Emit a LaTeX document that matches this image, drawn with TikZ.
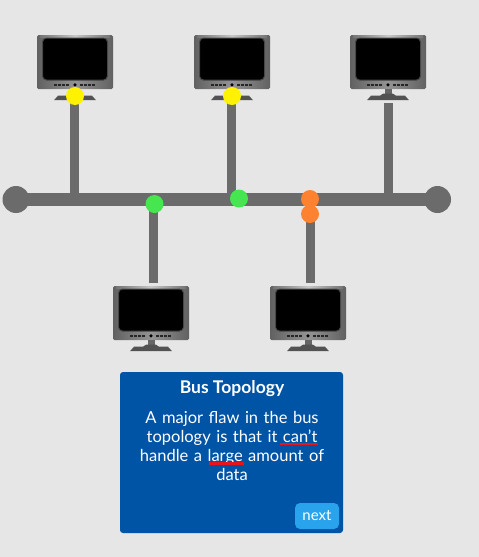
\documentclass[tikz,border=0pt]{standalone}
\usepackage{fontspec}
\setmainfont[Ligatures=ResetAll]{Lato}
\usetikzlibrary{positioning,calc}
\definecolor{pagegrey}{HTML}{E6E6E6}
\definecolor{busgrey}{HTML}{6B6B6B}
\definecolor{cardblue}{HTML}{0054A6}
\definecolor{nextblue}{HTML}{29A3EC}
\definecolor{dotgreen}{HTML}{46E650}
\definecolor{dotorange}{HTML}{FF8230}
\definecolor{flawred}{HTML}{E8141C}

\tikzset{
    wire/.style={draw=busgrey,line width=9pt},
    busend/.style={circle,fill=busgrey,minimum size=27pt,inner sep=0pt},
    signal/.style={circle,fill=#1,minimum size=18pt,inner sep=0pt},
    flawline/.style={draw=flawred,line width=2.2pt},
    monitor/.style={
        rectangle,
        rounded corners=1.5pt,
        minimum width=76pt,
        minimum height=54pt,
        inner sep=0pt,
        left color=black!62,
        right color=black!62,
        middle color=black!42
    },
    screen/.style={
        rectangle,
        rounded corners=4pt,
        fill=black,
        draw=black!72,
        line width=1pt,
        minimum width=65pt,
        minimum height=42pt,
        inner sep=0pt
    },
    stand/.pic={
        \fill[black!60] (-3.5,0) rectangle (3.5,6);
        \fill[black!68] (-5,4.5) -- (5,4.5) -- (8,6.5) -- (17,6.5) -- (21,11) -- (-21,11) -- (-17,6.5) -- (-8,6.5) -- cycle;
    }
}

\newcommand{\pcmonitor}[3]{
    \node[monitor] (#1) at (#2,#3) {};
    \fill[left color=black!55,right color=black!55,middle color=black!22] ($(#1.north west)+(3,1)$) rectangle ($(#1.north east)+(-3,3)$);
    \node[screen,yshift=3pt] (#1 screen) at (#1) {};
    \foreach \dx in {-21,-17,-13,-9,5,9,13,17}
        \fill[black!85] ($(#1.south)+(\dx,-5)$) rectangle +(3.2,1.5);
    \fill[black] ($(#1.south)+(0,-4.3)$) circle (1.8);
    \path (#1.south) pic {stand};
}

\begin{document}
\begin{tikzpicture}[x=1pt,y=-1pt]

\useasboundingbox[fill=pagegrey] (0,0) rectangle (479,557);

% monitors
\pcmonitor{pcA}{75}{62}
\pcmonitor{pcB}{232}{62}
\pcmonitor{pcC}{388}{62}
\pcmonitor{pcD}{151}{313}
\pcmonitor{pcE}{308}{313}

% bus
\node[busend] (endL) at (16,199.5) {};
\node[busend] (endR) at (437.5,199.5) {};
\draw[wire,line width=13pt] (endL.center) -- (endR.center);

% stubs
\coordinate (tapA) at (74.5,100);
\coordinate (tapB) at (231.5,100);
\coordinate (tapC) at (388.5,103);
\coordinate (tapD) at (153.5,283);
\coordinate (tapE) at (310.5,283);
\draw[wire] (tapA) -- (tapA |- endL);
\draw[wire] (tapB) -- (tapB |- endL);
\draw[wire] (tapC) -- (tapC |- endL);
\draw[wire] (tapD) -- (tapD |- endL);
\draw[wire] (tapE) -- (tapE |- endL);

% signals
\node[signal=yellow] (dotA) at (75,96) {};
\node[signal=yellow] (dotB) at (232,96) {};
\node[signal=dotgreen] (dotD) at (154.5,204) {};
\node[signal=dotgreen] (dotG) at (239,198.5) {};
\node[signal=dotorange] (dotE) at (310,199) {};
\node[signal=dotorange] (dotF) at (310,214) {};

% message box
\node[fill=cardblue,rounded corners=3pt,minimum width=223pt,minimum height=161pt,inner sep=0pt] (card) at (231.5,452.5) {};
\node[text=white,font=\bfseries\fontsize{17.5}{19}\selectfont] (title) at (232,389) {Bus Topology};
\node[text=white,font=\fontsize{16.5}{19}\selectfont,align=center,text width=210pt,inner sep=0pt] (msg) at (232,445.5) {A major flaw in the bus\\topology is that it can't\\handle a large amount of\\data};
\node[fill=nextblue,text=white,rounded corners=5pt,minimum width=44pt,minimum height=26pt,inner sep=0pt,font=\fontsize{15}{17}\selectfont] (next) at (317,516) {next};
\coordinate (cantL) at (279.5,444);
\coordinate (cantR) at (318,444);
\coordinate (largeL) at (209,463.5);
\coordinate (largeR) at (244,463.5);
\draw[flawline] (cantL) -- (cantR);
\draw[flawline] (largeL) -- (largeR);

\end{tikzpicture}
\end{document}
